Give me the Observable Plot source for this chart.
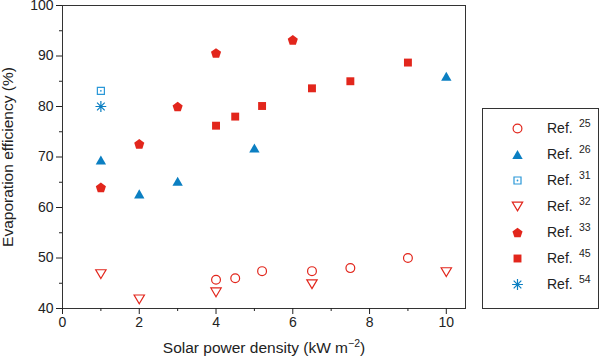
<!DOCTYPE html>
<html>
<head>
<meta charset="utf-8">
<script src="https://cdn.jsdelivr.net/npm/d3@7"></script>
<script src="https://cdn.jsdelivr.net/npm/@observablehq/plot@0.6"></script>
<style>
  html, body { margin: 0; padding: 0; background: #fff; }
  #wrap { position: relative; width: 600px; height: 356px; font-family: "Liberation Sans", Arial, Helvetica, sans-serif; }
  #legend { position: absolute; left: 482px; top: 108px; width: 117px; height: 201px; box-sizing: border-box; border: 1px solid #333; background: #fff; }
  #legend svg, #chart svg { display: block; }
</style>
</head>
<body>
<div id="wrap"><div id="chart"></div><div id="legend"></div></div>
<script>
// ---- data ----
const ref25X = [4, 4.5, 5.2, 6.5, 7.5, 9];
const ref25Y = [45.7, 46.0, 47.4, 47.4, 48.0, 50.0];
const ref26X = [1, 2, 3, 5, 10];
const ref26Y = [69.4, 62.7, 65.2, 71.8, 86.0];
const ref31X = [1];
const ref31Y = [83.1];
const ref32X = [1, 2, 4, 6.5, 10];
const ref32Y = [46.8, 41.8, 43.2, 44.8, 47.2];
const ref33X = [1, 2, 3, 4, 6];
const ref33Y = [64.0, 72.6, 80.0, 90.6, 93.2];
const ref45X = [4, 4.5, 5.2, 6.5, 7.5, 9];
const ref45Y = [76.2, 78.0, 80.1, 83.6, 85.0, 88.7];
const ref54X = [1];
const ref54Y = [80.0];
const refNames = ["25", "26", "31", "32", "33", "45", "54"];
const xTicks = [0, 2, 4, 6, 8, 10];
const xMinor = [1, 3, 5, 7, 9];
const yTicks = [40, 50, 60, 70, 80, 90, 100];
const yMinor = [45, 55, 65, 75, 85, 95];

const RED = "#e2261c";
const BLUE = "#0b7fc2";
const LIGHTBLUE = "#2a98d8";

// ---- custom symbols ----
const R = s => Math.sqrt(s / Math.PI);
const pentagon = {draw(ctx, size) {
  const r = R(size) * 1.18;
  for (let i = 0; i < 5; i++) {
    const a = -Math.PI / 2 + i * 2 * Math.PI / 5;
    const px = r * Math.cos(a), py = r * Math.sin(a) + r * 0.1;
    i ? ctx.lineTo(px, py) : ctx.moveTo(px, py);
  }
  ctx.closePath();
}};
const triUp = {draw(ctx, size) {
  const w = R(size) * 1.15, h = w * 1.75;
  ctx.moveTo(0, -h / 2); ctx.lineTo(w, h / 2); ctx.lineTo(-w, h / 2); ctx.closePath();
}};
const triDown = {draw(ctx, size) {
  const w = R(size) * 1.15, h = w * 1.7;
  ctx.moveTo(0, h / 2); ctx.lineTo(w, -h / 2); ctx.lineTo(-w, -h / 2); ctx.closePath();
}};
const sq = {draw(ctx, size) {
  const a = R(size) * 0.88;
  ctx.moveTo(-a, -a); ctx.lineTo(a, -a); ctx.lineTo(a, a); ctx.lineTo(-a, a); ctx.closePath();
}};
const sqOpen = {draw(ctx, size) {
  const a = R(size) * 0.78;
  ctx.moveTo(-a, -a); ctx.lineTo(a, -a); ctx.lineTo(a, a); ctx.lineTo(-a, a); ctx.closePath();
}};
const aster = {draw(ctx, size) {
  const r = R(size) * 1.2, d = r * Math.SQRT1_2;
  ctx.moveTo(-r, 0); ctx.lineTo(r, 0);
  ctx.moveTo(0, -r); ctx.lineTo(0, r);
  ctx.moveTo(-d, -d); ctx.lineTo(d, d);
  ctx.moveTo(-d, d); ctx.lineTo(d, -d);
}};

const series = [
  {name: "25", xs: ref25X, ys: ref25Y, symbol: "circle", fill: "none", stroke: RED, r: 4.4},
  {name: "26", xs: ref26X, ys: ref26Y, symbol: triUp, fill: BLUE, stroke: "none", r: 4.5},
  {name: "31", xs: ref31X, ys: ref31Y, symbol: sqOpen, fill: "none", stroke: LIGHTBLUE, r: 4.5, centerDot: true},
  {name: "32", xs: ref32X, ys: ref32Y, symbol: triDown, fill: "none", stroke: RED, r: 4.5},
  {name: "33", xs: ref33X, ys: ref33Y, symbol: pentagon, fill: RED, stroke: "none", r: 4.5},
  {name: "45", xs: ref45X, ys: ref45Y, symbol: sq, fill: RED, stroke: "none", r: 4.5},
  {name: "54", xs: ref54X, ys: ref54Y, symbol: aster, fill: "none", stroke: BLUE, r: 4.5}
];

function seriesMarks(s, data, chan) {
  const marks = [Plot.dot(data, {...chan, symbol: s.symbol, r: s.r, fill: s.fill, stroke: s.stroke, strokeWidth: 1.2})];
  if (s.centerDot) marks.push(Plot.dot(data, {...chan, r: 0.9, fill: s.stroke, stroke: "none"}));
  return marks;
}

const font = "'Liberation Sans', Arial, Helvetica, sans-serif";
const XLABEL = "Solar power density (kW m";

const chart = Plot.plot({
  width: 600, height: 356,
  marginLeft: 62, marginRight: 135, marginTop: 5, marginBottom: 48,
  style: {fontFamily: font, fontSize: "14px", color: "#222", background: "#fff", overflow: "visible"},
  x: {domain: [0, 10.5]},
  y: {domain: [40, 100]},
  marks: [
    Plot.frame({stroke: "#333", strokeWidth: 1}),
    Plot.axisX({ticks: xTicks, tickSize: 6, tickPadding: 3, fontSize: 14, label: null}),
    Plot.axisX({ticks: xMinor, tickSize: 3, tickFormat: () => "", label: null}),
    Plot.axisX({ticks: [], tickSize: 0, label: XLABEL, labelAnchor: "center", labelArrow: "none", labelOffset: 44, fontSize: 15.5}),
    Plot.axisY({ticks: yTicks, tickSize: 6, tickPadding: 3, fontSize: 14, label: null}),
    Plot.axisY({ticks: yMinor, tickSize: 3, tickFormat: () => "", label: null}),
    Plot.axisY({ticks: [], tickSize: 0, label: "Evaporation efficiency (%)", labelAnchor: "center", labelArrow: "none", labelOffset: 61, fontSize: 15.5}),
    ...series.flatMap(s => {
      const data = s.xs.map((x, i) => ({x, y: s.ys[i]}));
      return seriesMarks(s, data, {x: "x", y: "y"});
    })
  ]
});
document.getElementById("chart").append(chart);

// superscript in x label
const ns = "http://www.w3.org/2000/svg";
chart.querySelectorAll("text").forEach(t => {
  if (t.textContent.includes("kW m")) {
    const base = t.textContent;
    while (t.firstChild) t.removeChild(t.firstChild);
    const a = document.createElementNS(ns, "tspan");
    a.textContent = base;
    const sup = document.createElementNS(ns, "tspan");
    sup.setAttribute("dy", "-6");
    sup.setAttribute("style", "font-size:10.5px");
    sup.textContent = "\u22122";
    const close = document.createElementNS(ns, "tspan");
    close.setAttribute("dy", "6");
    close.textContent = ")";
    t.append(a, sup, close);
  }
});

// legend
const legend = Plot.plot({
  width: 115, height: 199, margin: 0,
  style: {fontFamily: font, fontSize: "14px", color: "#222", background: "#fff"},
  y: {type: "point", domain: refNames, range: [16.5, 176.5], padding: 0, axis: null},
  marks: [
    ...series.flatMap(s => seriesMarks(s, [s.name], {y: d => d, frameAnchor: "left", dx: 34})),
    Plot.text(refNames, {y: d => d, text: () => "Ref.", frameAnchor: "left", dx: 63.5, textAnchor: "start", fontSize: 14, fill: "#222"}),
    Plot.text(refNames, {y: d => d, text: d => d, frameAnchor: "left", dx: 95.5, dy: -5, textAnchor: "start", fontSize: 10.5, fill: "#222"})
  ]
});
document.getElementById("legend").append(legend);
</script>
</body>
</html>
